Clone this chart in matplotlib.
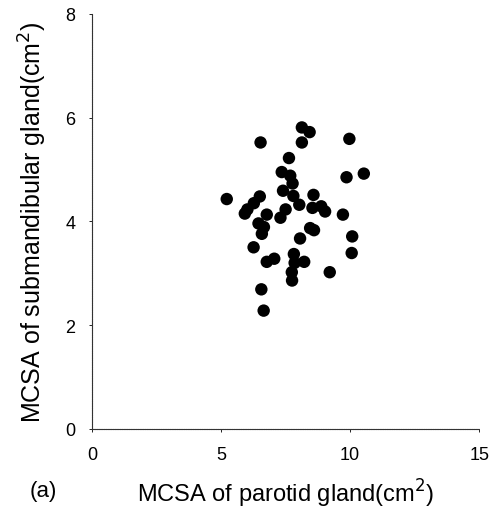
import matplotlib
matplotlib.use('Agg')
import matplotlib.pyplot as plt

plt.rcParams['font.family'] = ['Liberation Sans', 'DejaVu Sans']

# MCSA of parotid gland (cm^2)
parotid = [5.22, 5.92, 6.02, 6.27, 6.50, 6.26, 6.45, 6.66, 6.58, 6.53, 6.56, 6.65,
           6.77, 6.77, 7.06, 7.30, 7.50, 7.40, 7.35, 7.63, 7.68, 7.77, 7.80, 8.03,
           7.82, 7.85, 7.74, 7.75, 8.22, 8.06, 8.13, 8.13, 8.43, 8.58, 8.54, 8.45,
           8.60, 8.88, 9.03, 9.21, 9.72, 9.86, 9.97, 10.53, 10.08, 10.06]
# MCSA of submandibular gland (cm^2)
submand = [4.43, 4.15, 4.23, 4.35, 4.48, 3.50, 3.96, 3.89, 3.76, 5.52, 2.69, 2.28,
           4.13, 3.22, 3.28, 4.07, 4.23, 4.59, 4.95, 5.22, 4.88, 4.73, 4.49, 4.32,
           3.37, 3.20, 3.02, 2.86, 3.22, 3.67, 5.52, 5.81, 5.72, 4.51, 4.26, 3.87,
           3.83, 4.29, 4.19, 3.02, 4.13, 4.85, 5.59, 4.92, 3.71, 3.39]

fig = plt.figure(figsize=(4.92, 5.10), dpi=100)
ax = fig.add_axes([0.187, 0.157, 0.787, 0.814])

ax.scatter(parotid, submand, s=80, color='black', edgecolors='none', zorder=3)

ax.set_xlim(0, 15)
ax.set_ylim(0, 8)
ax.set_xticks([0, 5, 10, 15])
ax.set_yticks([0, 2, 4, 6, 8])
ax.spines['top'].set_visible(False)
ax.spines['right'].set_visible(False)
for s in ('left', 'bottom'):
    ax.spines[s].set_linewidth(0.8)
    ax.spines[s].set_color('#333333')
    ax.spines[s].set_linestyle((0, (1, 0.6)))
ax.tick_params(length=2, width=0.6, labelsize=13, pad=10)

ax.set_xlabel('MCSA of parotid gland(cm$^2$)', fontsize=17, labelpad=10)
ax.set_ylabel('MCSA of submandibular gland(cm$^2$)', fontsize=18, labelpad=12)
fig.text(0.06, 0.025, '(a)', fontsize=16)

fig.savefig('out.png', dpi=100)
